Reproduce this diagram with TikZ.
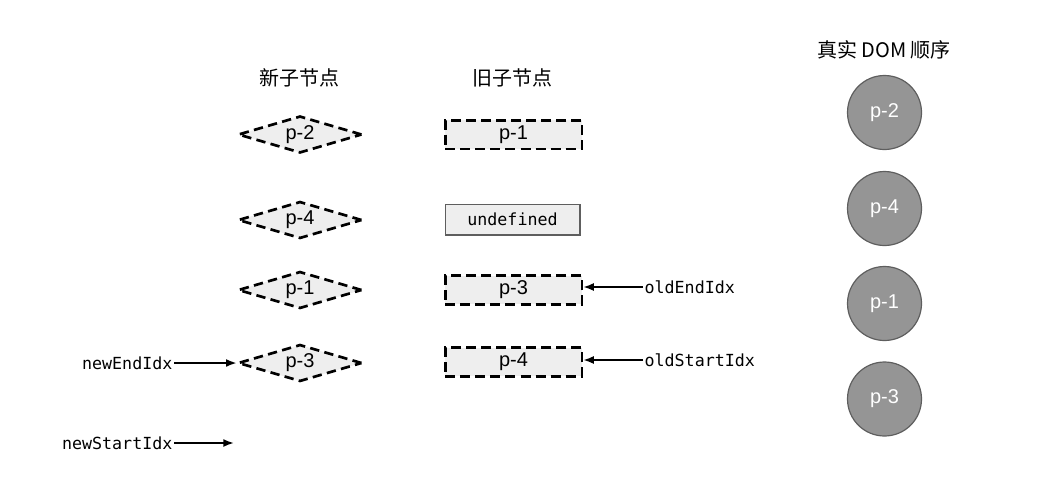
\documentclass[tikz,border=0pt]{standalone}
\usepackage{fontspec}
\setmainfont{Liberation Sans}
\newfontfamily\cjk{Noto Sans CJK SC}
\newfontfamily\monof{DejaVu Sans Mono}
\usetikzlibrary{shapes.geometric,arrows.meta}
\definecolor{boxfill}{HTML}{EEEEEE}
\definecolor{circfill}{HTML}{959595}
\definecolor{circline}{HTML}{5E5E5E}
\begin{document}
\begin{tikzpicture}[x=0.75pt,y=-0.75pt,
  dia/.style={diamond,draw=black,fill=boxfill,line width=2pt,dash pattern=on 7pt off 4pt,
     shape aspect=3.35,inner sep=0pt,minimum width=93pt,minimum height=27.75pt,font=\fontsize{15}{17}\selectfont},
  oldbox/.style={rectangle,draw=black,fill=boxfill,line width=2pt,dash pattern=on 7.5pt off 3.8pt,
     inner sep=0pt,minimum width=102.5pt,minimum height=21.5pt,font=\fontsize{15}{17}\selectfont},
  undefbox/.style={rectangle,draw=circline,fill=boxfill,line width=1pt,
     inner sep=0pt,minimum width=101pt,minimum height=23pt,font=\monof\fontsize{12.5}{14}\selectfont},
  dom/.style={circle,draw=circline,fill=circfill,line width=0.9pt,minimum size=55.5pt,inner sep=0pt,
     text=white,font=\fontsize{15}{17}\selectfont},
  head/.style={font=\cjk\fontsize{15}{18}\selectfont},
  lbl/.style={font=\monof\fontsize{12.5}{14}\selectfont,inner sep=1pt},
  arr/.style={-{Latex[length=8pt,width=6pt]},line width=1.4pt}
]
\useasboundingbox (0,0) rectangle (1052,479);
% headings
\node[head] (hnew) at (299,78) {新子节点};
\node[head] (hold) at (512,78) {旧子节点};
\node[head] (hdom) at (884,50) {真实 DOM 顺序};
% new children
\node[dia] (n1) at (300,134.5) {p-2};
\node[dia] (n2) at (300,220) {p-4};
\node[dia] (n3) at (300,290) {p-1};
\node[dia] (n4) at (300,363) {p-3};
% old children
\node[oldbox] (o1) at (513.5,134.5) {p-1};
\node[undefbox] (o2) at (512.5,219.5) {undefined};
\node[oldbox] (o3) at (513.5,290) {p-3};
\node[oldbox] (o4) at (513.5,362) {p-4};
% real DOM
\node[dom] (d1) at (884.5,112.5) {p-2};
\node[dom] (d2) at (884.5,208.5) {p-4};
\node[dom] (d3) at (884.5,303.5) {p-1};
\node[dom] (d4) at (884.5,399) {p-3};
% pointers
\node[lbl,anchor=east] (nend) at (174,363) {newEndIdx};
\node[lbl,anchor=east] (nstart) at (174,443) {newStartIdx};
\coordinate (nstartend) at (234,443);
\node[lbl,anchor=west] (oend) at (643,287) {oldEndIdx};
\node[lbl,anchor=west] (ostart) at (643,360) {oldStartIdx};
\draw[arr] (nend.east) -- (n4.west);
\draw[arr] (nstart.east) -- (nstartend);
\draw[arr] (oend.west) -- (o3.east |- oend.west);
\draw[arr] (ostart.west) -- (o4.east |- ostart.west);
\end{tikzpicture}
\end{document}
